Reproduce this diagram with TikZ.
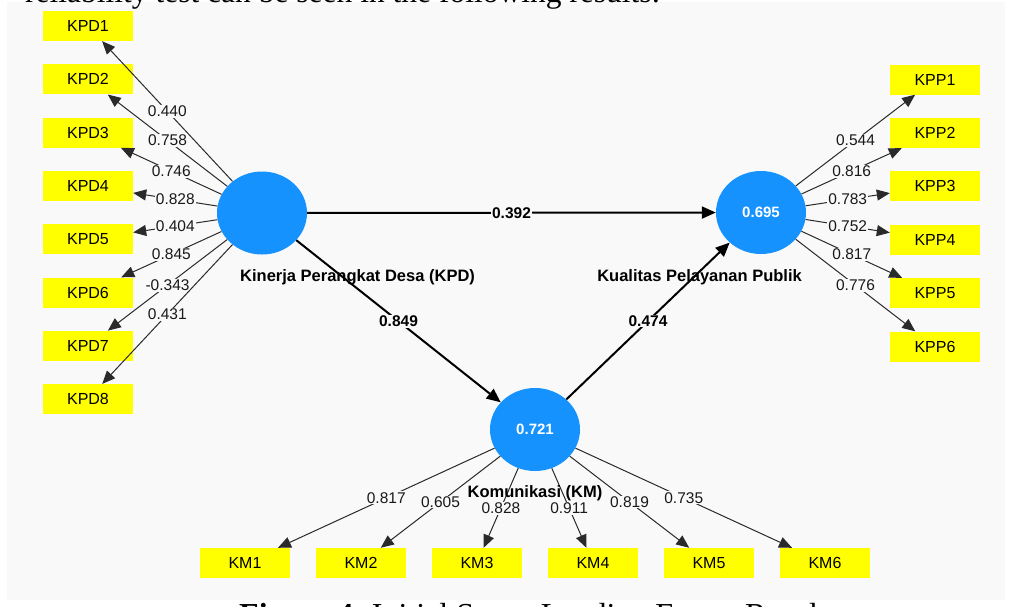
\documentclass[tikz,border=0pt]{standalone}
\usepackage{fontspec}
\setmainfont{Liberation Sans}
\newfontfamily\docserif{Liberation Serif}
\usetikzlibrary{shapes.geometric,arrows.meta}
\definecolor{panel}{HTML}{F9F9F9}
\definecolor{lvblue}{RGB}{22,146,255}
\definecolor{indyellow}{HTML}{FFFF00}
\definecolor{lineg}{HTML}{2A2A2A}
\begin{document}
\begin{tikzpicture}[x=1pt,y=-1pt,
  latent/.style={ellipse, fill=lvblue, minimum width=90pt, minimum height=83pt, inner sep=0pt, text=white, font=\fontsize{15}{18}\selectfont\bfseries},
  indicator/.style={rectangle, fill=indyellow, minimum width=90pt, minimum height=30pt, inner sep=0pt, font=\fontsize{16}{18}\selectfont},
  loading/.style={draw=lineg, line width=1pt, -{Triangle[length=13pt,width=11pt]}},
  loadlab/.style={fill=panel, inner sep=1pt, font=\fontsize{15.5}{18}\selectfont, text=black!90},
  structpath/.style={draw=black, line width=2pt, -{Triangle[length=14pt,width=12pt]}},
  pathlab/.style={fill=panel, inner sep=1pt, font=\fontsize{15.5}{18}\selectfont\bfseries},
  conlab/.style={inner sep=0pt, font=\fontsize{16.5}{19}\selectfont\bfseries}]
\useasboundingbox (0,0) rectangle (1011,606);
\fill[white] (0,0) rectangle (1011,606);
\clip (0,0) rectangle (1011,606);
\fill[panel] (7,2) rectangle (1005,600);
% surrounding page text, cut by the frame
\node[anchor=base west, inner sep=0pt, font=\docserif\fontsize{31.5}{36}\selectfont] (toptext) at (25,2) {reliability test can be seen in the following results:};
\node[anchor=base west, inner sep=0pt, font=\docserif\fontsize{32}{36}\selectfont] (caption) at (239,625) {\textbf{Figure 4.} Initial Smart Loading Factor Result};
% latent variables
\node[latent] (kpd) at (262,213) {};
\node[latent] (kpp) at (761,212.5) {0.695};
\node[latent] (km) at (535,429.5) {0.721};
% indicators
\node[indicator] (kpd1) at (88,26) {KPD1};
\node[indicator] (kpd2) at (88,79.3) {KPD2};
\node[indicator] (kpd3) at (88,132.6) {KPD3};
\node[indicator] (kpd4) at (88,185.9) {KPD4};
\node[indicator] (kpd5) at (88,239.2) {KPD5};
\node[indicator] (kpd6) at (88,292.5) {KPD6};
\node[indicator] (kpd7) at (88,345.8) {KPD7};
\node[indicator] (kpd8) at (88,399.1) {KPD8};
\node[indicator] (kpp1) at (935,79.5) {KPP1};
\node[indicator] (kpp2) at (935,132.9) {KPP2};
\node[indicator] (kpp3) at (935,186.3) {KPP3};
\node[indicator] (kpp4) at (935,239.7) {KPP4};
\node[indicator] (kpp5) at (935,293.1) {KPP5};
\node[indicator] (kpp6) at (935,346.5) {KPP6};
\node[indicator] (km1) at (245,563) {KM1};
\node[indicator] (km2) at (361,563) {KM2};
\node[indicator] (km3) at (477,563) {KM3};
\node[indicator] (km4) at (593,563) {KM4};
\node[indicator] (km5) at (709,563) {KM5};
\node[indicator] (km6) at (825,563) {KM6};
% outer loadings
\draw[loading] (kpd) -- node[loadlab] {0.440} (kpd1);
\draw[loading] (kpd) -- node[loadlab] {0.758} (kpd2);
\draw[loading] (kpd) -- node[loadlab] {0.746} (kpd3);
\draw[loading] (kpd) -- node[loadlab] {0.828} (kpd4);
\draw[loading] (kpd) -- node[loadlab] {0.404} (kpd5);
\draw[loading] (kpd) -- node[loadlab] {0.845} (kpd6);
\draw[loading] (kpd) -- node[loadlab] {-0.343} (kpd7);
\draw[loading] (kpd) -- node[loadlab] {0.431} (kpd8);
\draw[loading] (kpp) -- node[loadlab] {0.544} (kpp1);
\draw[loading] (kpp) -- node[loadlab] {0.816} (kpp2);
\draw[loading] (kpp) -- node[loadlab] {0.783} (kpp3);
\draw[loading] (kpp) -- node[loadlab] {0.752} (kpp4);
\draw[loading] (kpp) -- node[loadlab] {0.817} (kpp5);
\draw[loading] (kpp) -- node[loadlab] {0.776} (kpp6);
\draw[loading] (km) -- node[loadlab] {0.817} (km1);
\draw[loading] (km) -- node[loadlab] {0.605} (km2);
\draw[loading] (km) -- node[loadlab] {0.828} (km3);
\draw[loading] (km) -- node[loadlab] {0.911} (km4);
\draw[loading] (km) -- node[loadlab] {0.819} (km5);
\draw[loading] (km) -- node[loadlab] {0.735} (km6);
% structural paths
\draw[structpath] (kpd) -- node[pathlab] {0.392} (kpp);
\draw[structpath] (kpd) -- node[pathlab] {0.849} (km);
\draw[structpath] (km) -- node[pathlab] {0.474} (kpp);
% construct names
\node[conlab, anchor=west] (kpdlab) at (240,277) {Kinerja Perangkat Desa (KPD)};
\node[conlab, anchor=east] (kpplab) at (802,277) {Kualitas Pelayanan Publik};
\node[conlab] (kmlab) at (535,493) {Komunikasi (KM)};
\end{tikzpicture}
\end{document}
